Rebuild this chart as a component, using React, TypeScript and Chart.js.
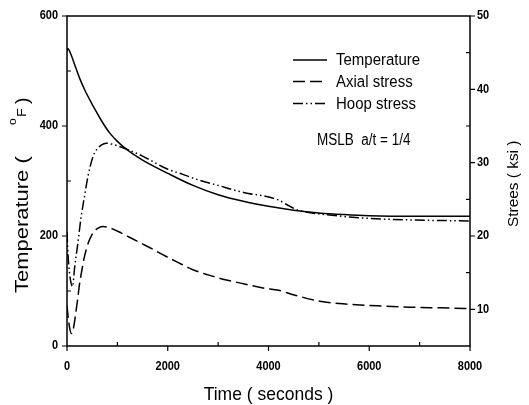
import React, { useEffect, useRef } from "react";
import { Chart, registerables } from "chart.js";

Chart.register(...registerables);

// ---- data ----
const tempTime = [0, 13, 83, 150, 250, 350, 450, 550, 650, 750, 850, 1000, 1176, 1500, 2000, 2500, 3000, 3500, 4000, 4500, 5000, 5500, 6000, 7000, 8000];
const tempValues = [536, 541, 529, 512, 487, 466, 448, 431, 415, 400, 387, 372, 358, 338, 314, 292, 275, 263, 254, 247, 242, 239, 237, 236, 236];

const axialTime = [0, 30, 60, 90, 130, 170, 210, 250, 300, 340, 380, 430, 475, 515, 600, 715, 850, 1080, 1250, 1475, 1700, 1970, 2200, 2500, 2800, 3165, 3500, 3890, 4200, 4490, 5020, 5400, 5815, 6300, 6810, 7400, 8000];
const axialValues = [10.5, 8.5, 7.2, 6.7, 7.5, 9.3, 11.3, 13.5, 15.5, 17.0, 18.1, 19.2, 19.9, 20.4, 21.0, 21.3, 21.1, 20.4, 19.8, 19.0, 18.2, 17.2, 16.4, 15.4, 14.7, 14.0, 13.5, 12.9, 12.6, 12.0, 11.1, 10.8, 10.6, 10.45, 10.3, 10.2, 10.1];

const hoopTime = [0, 20, 50, 80, 110, 150, 215, 280, 350, 415, 515, 580, 680, 780, 900, 1000, 1240, 1500, 1970, 2300, 2630, 3000, 3300, 3600, 3960, 4200, 4360, 4555, 4800, 5150, 5600, 6000, 6750, 8000];
const hoopValues = [20.5, 17.5, 15, 13.6, 13.1, 15.6, 19, 22.6, 25.5, 28.1, 30.8, 31.7, 32.4, 32.65, 32.5, 32.3, 31.7, 30.9, 29.2, 28.4, 27.6, 26.9, 26.3, 25.8, 25.4, 24.9, 24.3, 23.6, 23.2, 22.9, 22.6, 22.4, 22.2, 22.05];

const xTicks = [0, 2000, 4000, 6000, 8000];
const xMinorTicks = [1000, 3000, 5000, 7000];
const leftTicks = [0, 200, 400, 600];
const leftMinorTicks = [100, 300, 500];
const rightTicks = [10, 20, 30, 40, 50];
const rightMinorTicks = [15, 25, 35, 45];

const seriesLabels = ["Temperature", "Axial stress", "Hoop stress"];
const xTitle = "Time ( seconds )";
const leftTitleMain = "Temperature (";
const leftTitleSup = "o";
const leftTitleUnit = "F";
const leftTitleEnd = ")";
const rightTitle = "Strees ( ksi )";
const annotation = "MSLB  a/t = 1/4";

// ---- styles ----
const FONT = '"Liberation Sans", Arial, Helvetica, sans-serif';
const AXIAL_DASH = [12, 5];
const HOOP_DASH = [10, 3, 1.5, 3, 1.5, 3];
const DASHES = [[], AXIAL_DASH, HOOP_DASH];

function txt(
  ctx: CanvasRenderingContext2D,
  s: string,
  x: number,
  y: number,
  font: string,
  align: CanvasTextAlign,
  baseline: CanvasTextBaseline,
  sx = 1,
  sy = 1,
  rot = 0
) {
  ctx.save();
  ctx.translate(x, y);
  if (rot) ctx.rotate(rot);
  ctx.scale(sx, sy);
  ctx.font = font;
  ctx.textAlign = align;
  ctx.textBaseline = baseline;
  ctx.fillStyle = "#000";
  ctx.fillText(s, 0, 0);
  ctx.restore();
}

const decor = {
  id: "decor",
  beforeDraw(chart: any) {
    const ctx = chart.ctx;
    ctx.save();
    ctx.fillStyle = "#fff";
    ctx.fillRect(0, 0, chart.width, chart.height);
    ctx.restore();
  },
  afterDraw(chart: any) {
    const ctx: CanvasRenderingContext2D = chart.ctx;
    const { left, right, top, bottom } = chart.chartArea;
    const xs = chart.scales.x;
    const yl = chart.scales.y;
    const yr = chart.scales.y1;
    ctx.save();
    ctx.strokeStyle = "#000";
    ctx.setLineDash([]);
    ctx.lineWidth = 1.5;
    ctx.strokeRect(left, top, right - left, bottom - top);

    ctx.lineWidth = 1.2;
    ctx.beginPath();
    xTicks.forEach((v) => {
      const p = xs.getPixelForValue(v);
      ctx.moveTo(p, bottom);
      ctx.lineTo(p, bottom + 5);
    });
    xMinorTicks.forEach((v) => {
      const p = xs.getPixelForValue(v);
      ctx.moveTo(p, bottom);
      ctx.lineTo(p, bottom - 4);
    });
    leftTicks.forEach((v) => {
      const p = yl.getPixelForValue(v);
      ctx.moveTo(left, p);
      ctx.lineTo(left - 5, p);
    });
    leftMinorTicks.forEach((v) => {
      const p = yl.getPixelForValue(v);
      ctx.moveTo(left, p);
      ctx.lineTo(left + 4, p);
    });
    rightTicks.forEach((v) => {
      const p = yr.getPixelForValue(v);
      ctx.moveTo(right, p);
      ctx.lineTo(right + 5, p);
    });
    rightMinorTicks.forEach((v) => {
      const p = yr.getPixelForValue(v);
      ctx.moveTo(right, p);
      ctx.lineTo(right - 4, p);
    });
    ctx.stroke();

    const tickFont = `bold 11px ${FONT}`;
    xTicks.forEach((v) => {
      txt(ctx, String(v), xs.getPixelForValue(v), bottom + 21, tickFont, "center", "middle", 1, 1.15);
    });
    leftTicks.forEach((v) => {
      txt(ctx, String(v), left - 9, yl.getPixelForValue(v), tickFont, "right", "middle", 1, 1.15);
    });
    rightTicks.forEach((v) => {
      txt(ctx, String(v), right + 7, yr.getPixelForValue(v), tickFont, "left", "middle", 1, 1.15);
    });

    // axis titles
    const midX = (left + right) / 2;
    txt(ctx, xTitle, midX, 400, `17.5px ${FONT}`, "center", "alphabetic", 1, 1.1);

    const R = -Math.PI / 2;
    txt(ctx, leftTitleMain, 28, 293, `18px ${FONT}`, "left", "alphabetic", 1.22, 1, R);
    txt(ctx, leftTitleSup, 16, 293 - 168, `11px ${FONT}`, "left", "alphabetic", 1.1, 1, R);
    txt(ctx, leftTitleUnit, 26, 293 - 176, `13px ${FONT}`, "left", "alphabetic", 1.1, 1, R);
    txt(ctx, leftTitleEnd, 28, 293 - 189, `18px ${FONT}`, "left", "alphabetic", 1.1, 1, R);

    txt(ctx, rightTitle, 518, 227, `14px ${FONT}`, "left", "alphabetic", 1.1, 1, R);

    // legend
    const rows = [60, 81.5, 103.5];
    rows.forEach((ry, i) => {
      ctx.save();
      ctx.lineWidth = 1.5;
      ctx.setLineDash(DASHES[i]);
      ctx.beginPath();
      ctx.moveTo(293, ry);
      ctx.lineTo(327, ry);
      ctx.stroke();
      ctx.restore();
      txt(ctx, seriesLabels[i], 336, ry + 5, `15px ${FONT}`, "left", "alphabetic", 1, 1.05);
    });

    txt(ctx, annotation, 317, 145, `15px ${FONT}`, "left", "alphabetic", 0.9, 1.15);
    ctx.restore();
  },
};

function toPoints(ts: number[], vs: number[]) {
  return ts.map((t, i) => ({ x: t, y: vs[i] }));
}

export default function App() {
  const ref = useRef<HTMLCanvasElement | null>(null);
  useEffect(() => {
    if (!ref.current) return;
    const common = {
      borderColor: "#000",
      borderWidth: 1.5,
      pointRadius: 0,
      fill: false,
      cubicInterpolationMode: "monotone" as const,
    };
    const chart = new Chart(ref.current, {
      type: "line",
      data: {
        datasets: [
          { ...common, label: seriesLabels[0], data: toPoints(tempTime, tempValues), yAxisID: "y" },
          { ...common, label: seriesLabels[1], data: toPoints(axialTime, axialValues), yAxisID: "y1", borderDash: AXIAL_DASH },
          { ...common, label: seriesLabels[2], data: toPoints(hoopTime, hoopValues), yAxisID: "y1", borderDash: HOOP_DASH },
        ],
      },
      options: {
        responsive: false,
        animation: false,
        events: [],
        layout: { padding: { left: 67, right: 59, top: 16, bottom: 59 } },
        scales: {
          x: { type: "linear", min: 0, max: 8000, display: false },
          y: { type: "linear", position: "left", min: 0, max: 600, display: false },
          y1: { type: "linear", position: "right", min: 5, max: 50, display: false },
        },
        plugins: { legend: { display: false }, tooltip: { enabled: false } },
      },
      plugins: [decor],
    } as any);
    return () => chart.destroy();
  }, []);
  return (
    <div style={{ position: "absolute", left: 0, top: 0, width: 529, height: 405 }}>
      <canvas ref={ref} width={529} height={405} style={{ display: "block", width: 529, height: 405 }} />
    </div>
  );
}
